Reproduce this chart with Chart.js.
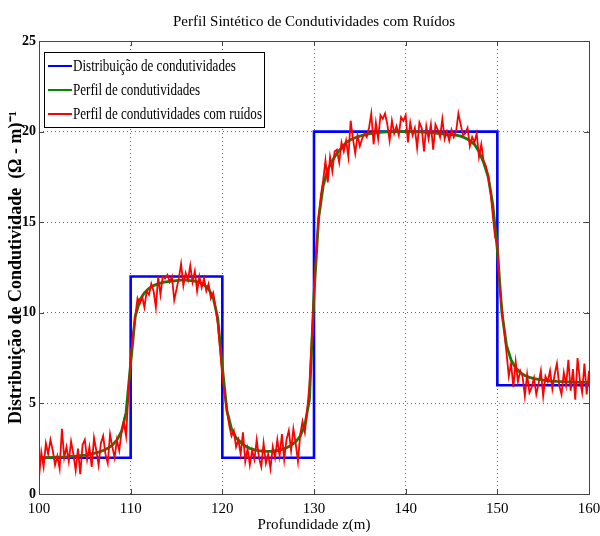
<!DOCTYPE html>
<html><head><meta charset="utf-8">
<script src="https://cdn.jsdelivr.net/npm/chart.js@4.4.0/dist/chart.umd.min.js"></script>
<style>html,body{margin:0;padding:0;background:#fff;}</style>
</head><body>
<canvas id="c" width="600" height="536"></canvas>
<script>
// ---- data ----
const chartTitle = 'Perfil Sintético de Condutividades com Ruídos';
const xTitle = 'Profundidade z(m)';
const yTitle = 'Distribuição de Condutividade  (Ω - m)⁻¹';
const seriesLabels = ['Distribuição de condutividades', 'Perfil de condutividades', 'Perfil de condutividades com ruídos'];
const xTicks = [100, 110, 120, 130, 140, 150, 160];
const yTicks = [0, 5, 10, 15, 20, 25];

// blocky true distribution (depth, conductivity)
const stepDepth = [100, 110, 110, 120, 120, 130, 130, 150, 150, 160];
const stepCond  = [2, 2, 12, 12, 2, 2, 20, 20, 6, 6];

// smooth profile, sampled every 0.5 m from 100 m
const smoothStart = 100, smoothStep = 0.5;
const smoothCond = [
  2.00, 2.00, 2.01, 2.02, 2.03, 2.04, 2.05, 2.07, 2.09, 2.12,
  2.15, 2.19, 2.24, 2.31, 2.40, 2.52, 2.70, 2.98, 3.45, 4.50,
  7.20, 9.80, 10.70, 11.10, 11.35, 11.50, 11.60, 11.68, 11.72, 11.75,
  11.78, 11.80, 11.80, 11.78, 11.75, 11.68, 11.55, 11.32, 10.85, 9.70,
  7.00, 4.60, 3.60, 3.10, 2.85, 2.65, 2.52, 2.44, 2.39, 2.36,
  2.35, 2.36, 2.40, 2.46, 2.55, 2.68, 2.88, 3.20, 3.80, 5.20,
  11.00, 15.20, 17.00, 17.90, 18.40, 18.80, 19.10, 19.40, 19.55, 19.66,
  19.75, 19.82, 19.88, 19.92, 19.95, 19.97, 19.98, 19.99, 20.00, 20.00,
  20.00, 20.00, 19.99, 19.98, 19.97, 19.95, 19.93, 19.90, 19.87, 19.83,
  19.85, 19.80, 19.75, 19.65, 19.50, 19.30, 18.90, 18.30, 17.50, 16.00,
  13.50, 10.00, 8.20, 7.40, 6.95, 6.70, 6.54, 6.44, 6.37, 6.32,
  6.28, 6.25, 6.23, 6.21, 6.20, 6.19, 6.18, 6.17, 6.16, 6.16,
  6.15
];

// noisy profile, sampled every 0.25 m from 100 m
const noisyStart = 100, noisyStep = 0.25;
const noisyCond = [
  0.9, 2.3, 1.5, 2.8, 2.2, 3.0, 2.4, 1.6, 2.1, 1.4, 3.6, 2.0, 2.6, 1.8, 2.9, 2.2, 1.3, 2.5, 1.1, 2.7,
  3.0, 1.9, 2.6, 1.5, 3.1, 2.4, 1.6, 2.8, 3.2, 2.2, 1.7, 3.3, 2.6, 2.0, 3.0, 2.4, 3.4, 4.0, 3.2, 5.5,
  7.5, 8.8, 9.8, 10.8, 10.5, 10.9, 10.3, 11.2, 11.0, 11.6, 11.2, 10.3, 12.0, 11.0, 12.0, 11.9, 12.1, 11.7, 12.0, 10.7,
  11.3, 11.9, 12.7, 11.5, 12.2, 11.8, 12.6, 11.7, 12.3, 11.2, 12.0, 11.4, 11.9, 11.2, 11.6, 10.8, 11.1, 10.3, 9.4, 8.0,
  6.5, 5.5, 4.6, 3.8, 3.2, 3.5, 2.6, 3.0, 2.2, 3.4, 1.8, 2.5, 1.6, 2.4, 1.9, 3.0, 2.0, 1.5, 2.8, 1.7,
  2.2, 1.4, 2.6, 2.0, 3.0, 2.1, 3.3, 1.9, 3.0, 3.5, 2.4, 3.6, 2.8, 1.8, 3.3, 4.0, 3.4, 4.6, 6.0, 8.5,
  11.0, 13.5, 15.2, 16.5, 17.3, 18.4, 17.2, 18.6, 17.8, 18.9, 19.0, 18.3, 19.4, 18.9, 19.5, 18.6, 20.6, 19.6, 18.8, 19.8,
  19.2, 19.6, 19.9, 19.7, 20.2, 21.0, 19.3, 20.5, 19.6, 20.9, 20.7, 21.0, 20.4, 19.5, 20.6, 19.9, 20.3, 19.8, 20.8, 20.6,
  20.9, 19.4, 20.5, 19.8, 20.2, 19.1, 20.5, 20.2, 18.9, 20.3, 19.6, 20.4, 19.0, 20.4, 20.1, 19.7, 20.7, 19.6, 20.0, 19.5,
  20.1, 19.7, 20.0, 21.0, 20.4, 19.8, 19.9, 20.2, 19.2, 19.7, 19.4, 19.9, 18.6, 19.3, 18.4, 18.1, 17.6, 16.7, 15.4, 14.2,
  13.8, 11.5, 10.2, 9.0, 7.8, 6.5, 7.2, 5.9, 7.3, 6.2, 6.8, 6.5, 5.4, 6.6, 5.6, 5.9, 6.4, 5.5, 6.1, 6.8,
  5.4, 6.5, 6.2, 6.8, 5.8, 6.6, 7.2, 6.0, 5.5, 6.7, 6.0, 7.4, 5.7, 6.9, 5.2, 7.5, 6.3, 5.6, 7.2, 5.5,
  6.8
];

// ---- build point lists ----
const stepPts = stepDepth.map((d, i) => ({x: d, y: stepCond[i]}));
const smoothPts = smoothCond.map((v, i) => ({x: smoothStart + i * smoothStep, y: v}));
const noisyPts = noisyCond.map((v, i) => ({x: noisyStart + i * noisyStep, y: v}));

const SERIF = "'Liberation Serif', 'Times New Roman', serif";

const framePlugin = {
  id: 'frame',
  afterDatasetsDraw(chart) {
    const {ctx, chartArea: a, scales} = chart;
    ctx.save();
    ctx.strokeStyle = '#444';
    ctx.lineWidth = 1;
    ctx.strokeRect(Math.round(a.left) + 0.5, Math.round(a.top) + 0.5, Math.round(a.right - a.left), Math.round(a.bottom - a.top));
    ctx.beginPath();
    const tl = 5;
    xTicks.forEach(v => {
      const px = Math.round(scales.x.getPixelForValue(v)) + 0.5;
      ctx.moveTo(px, a.bottom); ctx.lineTo(px, a.bottom - tl);
      ctx.moveTo(px, a.top); ctx.lineTo(px, a.top + tl);
    });
    yTicks.forEach(v => {
      const py = Math.round(scales.y.getPixelForValue(v)) + 0.5;
      ctx.moveTo(a.left, py); ctx.lineTo(a.left + tl, py);
      ctx.moveTo(a.right, py); ctx.lineTo(a.right - tl, py);
    });
    ctx.stroke();
    ctx.restore();
  }
};

const legendPlugin = {
  id: 'boxLegend',
  afterDraw(chart) {
    const {ctx, chartArea: a} = chart;
    const x0 = Math.round(a.left) + 5, y0 = Math.round(a.top) + 11, w = 220, h = 75;
    ctx.save();
    ctx.fillStyle = '#fff';
    ctx.fillRect(x0, y0, w, h);
    ctx.strokeStyle = '#000';
    ctx.lineWidth = 1;
    ctx.strokeRect(x0 + 0.5, y0 + 0.5, w, h);
    ctx.font = '16px ' + SERIF;
    const longest = Math.max(...chart.data.datasets.map(d => ctx.measureText(d.label).width));
    const sx = 189 / longest;
    chart.data.datasets.forEach((ds, i) => {
      const cy = y0 + 14 + i * 24;
      ctx.strokeStyle = ds.borderColor;
      ctx.lineWidth = 2;
      ctx.beginPath();
      ctx.moveTo(x0 + 4, cy); ctx.lineTo(x0 + 28, cy);
      ctx.stroke();
      ctx.save();
      ctx.translate(x0 + 29, cy);
      ctx.scale(sx, 1);
      ctx.fillStyle = '#000';
      ctx.textBaseline = 'middle';
      ctx.fillText(ds.label, 0, 1);
      ctx.restore();
    });
    ctx.restore();
  }
};

new Chart(document.getElementById('c'), {
  type: 'line',
  data: {
    datasets: [
      {label: seriesLabels[0], data: stepPts, borderColor: '#0000ff', borderWidth: 2.6, pointRadius: 0, tension: 0, order: 2},
      {label: seriesLabels[1], data: smoothPts, borderColor: '#0a820a', borderWidth: 2.8, pointRadius: 0, tension: 0, order: 1},
      {label: seriesLabels[2], data: noisyPts, borderColor: '#ff0000', borderWidth: 1.8, pointRadius: 0, tension: 0, order: 0}
    ]
  },
  options: {
    responsive: false,
    animation: false,
    devicePixelRatio: 1,
    layout: {padding: {left: 0, right: 11, top: 0, bottom: 0}},
    plugins: {
      legend: {display: false},
      tooltip: {enabled: false},
      title: {
        display: true, text: chartTitle, fullSize: false, color: '#000',
        font: {family: SERIF, size: 15, weight: 'normal'},
        padding: {top: 13, bottom: 10}
      }
    },
    scales: {
      x: {
        type: 'linear', min: 100, max: 160,
        afterBuildTicks: s => { s.ticks = xTicks.map(v => ({value: v})); },
        afterFit: s => { s.height = 42; s.paddingLeft = 0; s.paddingRight = 0; },
        ticks: {color: '#000', font: {family: SERIF, size: 15}, padding: 6, maxRotation: 0, autoSkip: false},
        grid: {drawTicks: false, color: '#666', lineWidth: 1},
        border: {display: false, dash: [1, 3]},
        title: {display: true, text: xTitle, color: '#000', font: {family: SERIF, size: 15}, padding: {top: 0, bottom: 2}}
      },
      y: {
        type: 'linear', min: 0, max: 25,
        afterBuildTicks: s => { s.ticks = yTicks.map(v => ({value: v})); },
        afterFit: s => { s.width = 39; s.paddingTop = 0; s.paddingBottom = 0; },
        ticks: {color: '#000', font: {family: SERIF, size: 14, weight: 'bold'}, padding: 3},
        grid: {drawTicks: false, color: '#666', lineWidth: 1},
        border: {display: false, dash: [1, 3]},
        title: {display: true, text: yTitle, color: '#000', font: {family: SERIF, size: 18, weight: 'bold'}, padding: {top: 6, bottom: 0}}
      }
    }
  },
  plugins: [framePlugin, legendPlugin]
});
</script>
</body></html>
